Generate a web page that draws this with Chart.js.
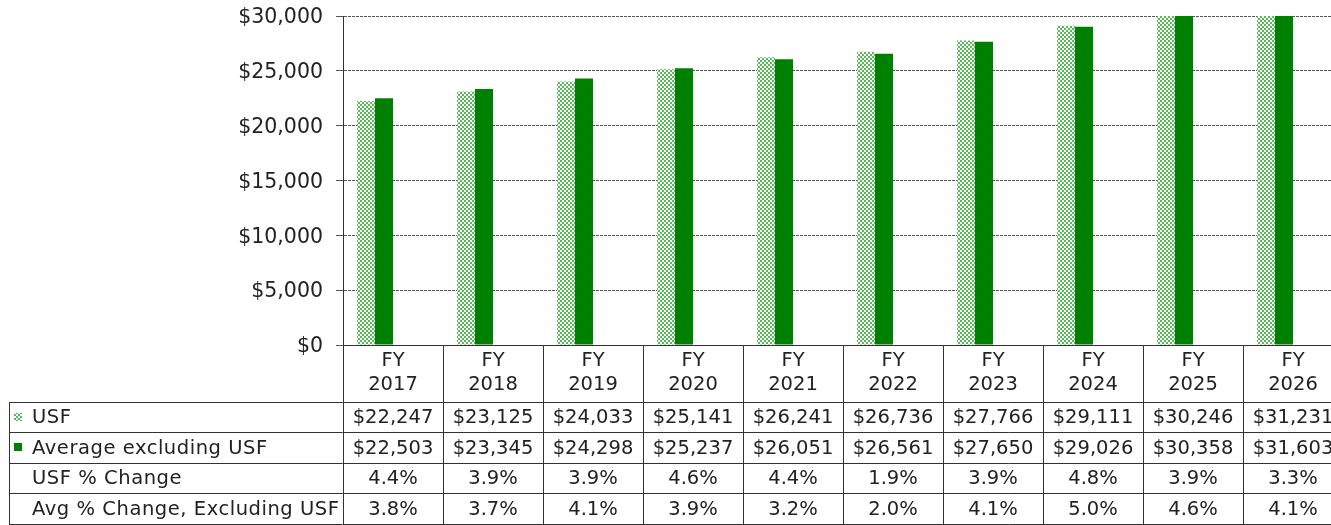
<!DOCTYPE html>
<html lang="en">
<head>
  <meta charset="UTF-8" />
  <title>USF vs Average excluding USF</title>
  <script src="https://cdn.jsdelivr.net/npm/chart.js"></script>
  <style>
    html, body { margin: 0; padding: 0; background: #fff; overflow: hidden; }
    #wrap { width: 1343px; height: 525px; }
  </style>
</head>
<body>
  <div id="wrap"><canvas id="usfChart" width="1343" height="525"></canvas></div>

  <script>
    const years = ['2017', '2018', '2019', '2020', '2021', '2022', '2023', '2024', '2025', '2026'];
    const usf = [22247, 23125, 24033, 25141, 26241, 26736, 27766, 29111, 30246, 31231];
    const avgExclUsf = [22503, 23345, 24298, 25237, 26051, 26561, 27650, 29026, 30358, 31603];
    const usfPctChange = [4.4, 3.9, 3.9, 4.6, 4.4, 1.9, 3.9, 4.8, 3.9, 3.3];
    const avgPctChange = [3.8, 3.7, 4.1, 3.9, 3.2, 2.0, 4.1, 5.0, 4.6, 4.1];
    const rowLabels = ['USF', 'Average excluding USF', 'USF % Change', 'Avg % Change, Excluding USF'];
    const yTicks = [0, 5000, 10000, 15000, 20000, 25000, 30000];

    const FAMILY = '"DejaVu Sans", Verdana, sans-serif';
    const LINE = '#333';
    const SOLID = '#008000';

    // dotted light-green fill used for the USF bars
    function makePattern() {
      const c = document.createElement('canvas');
      c.width = 4; c.height = 4;
      const g = c.getContext('2d');
      g.fillStyle = '#ffffff';
      g.fillRect(0, 0, 4, 4);
      g.fillStyle = '#55bb55';
      g.fillRect(0, 0, 2, 2);
      g.fillRect(2, 2, 2, 2);
      return g.createPattern(c, 'repeat');
    }
    const usfFill = makePattern();

    const money = v => '$' + v.toLocaleString('en-US');
    const pct = v => v.toFixed(1) + '%';

    // Excel-style data table under the plot, columns taken from the x scale
    const dataTable = {
      id: 'dataTable',
      afterDraw(chart) {
        const ctx = chart.ctx;
        const x = chart.scales.x;
        const area = chart.chartArea;
        const colW = x.width / years.length;
        const top = area.bottom;
        const rows = [top, 402, 432, 463, 493, 524];
        const tableLeft = 9;
        const right = chart.width;

        ctx.save();
        ctx.strokeStyle = LINE;
        ctx.lineWidth = 1;
        ctx.beginPath();
        ctx.moveTo(area.left, rows[0] + 0.5); ctx.lineTo(right, rows[0] + 0.5);
        for (let r = 1; r < rows.length; r++) {
          ctx.moveTo(tableLeft, rows[r] + 0.5); ctx.lineTo(right, rows[r] + 0.5);
        }
        ctx.moveTo(tableLeft + 0.5, rows[1]); ctx.lineTo(tableLeft + 0.5, rows[5]);
        for (let i = 0; i <= years.length; i++) {
          const px = Math.round(x.getPixelForValue(i) - colW / 2) + 0.5;
          ctx.moveTo(px, rows[0]); ctx.lineTo(px, rows[5]);
        }
        ctx.stroke();

        ctx.font = '19.5px ' + FAMILY;
        ctx.fillStyle = '#222';
        ctx.textBaseline = 'middle';
        ctx.textAlign = 'center';
        const series = [usf.map(money), avgExclUsf.map(money), usfPctChange.map(pct), avgPctChange.map(pct)];
        years.forEach((yr, i) => {
          const cx = x.getPixelForValue(i);
          ctx.fillText('FY', cx, 361);
          ctx.fillText(yr, cx, 385);
          series.forEach((vals, r) => {
            ctx.fillText(vals[i], cx, (rows[r + 1] + rows[r + 2]) / 2 + 1);
          });
        });

        ctx.textAlign = 'left';
        ctx.letterSpacing = '0.55px';
        rowLabels.forEach((lbl, r) => {
          const cy = (rows[r + 1] + rows[r + 2]) / 2 + 1;
          ctx.fillText(lbl, 32, cy);
        });
        ctx.letterSpacing = '0px';
        // legend keys
        ctx.fillStyle = usfFill;
        ctx.fillRect(14, 413, 8, 8);
        ctx.fillStyle = SOLID;
        ctx.fillRect(14, 443, 8, 8);
        ctx.restore();
      }
    };

    new Chart(document.getElementById('usfChart'), {
      type: 'bar',
      data: {
        labels: years,
        datasets: [
          { label: rowLabels[0], data: usf, backgroundColor: usfFill, yAxisID: 'y' },
          { label: rowLabels[1], data: avgExclUsf, backgroundColor: SOLID, yAxisID: 'y' },
          { label: rowLabels[2], data: usfPctChange, backgroundColor: 'rgba(0,0,0,0)', yAxisID: 'pct' },
          { label: rowLabels[3], data: avgPctChange, backgroundColor: 'rgba(0,0,0,0)', yAxisID: 'pct' }
        ]
      },
      options: {
        responsive: false,
        animation: false,
        categoryPercentage: 0.72,
        barPercentage: 1,
        layout: { padding: { top: 16, bottom: 180, left: 0, right: 0 } },
        plugins: { legend: { display: false }, tooltip: { enabled: false } },
        scales: {
          x: {
            ticks: { display: false },
            grid: { display: false },
            border: { display: false },
            afterFit: s => { s.height = 0; }
          },
          y: {
            min: 0,
            max: 30000,
            afterBuildTicks: s => { s.ticks = yTicks.map(v => ({ value: v })); },
            afterFit: s => { s.width = 343; s.paddingTop = 0; s.paddingBottom = 0; },
            ticks: {
              color: '#222',
              font: { family: FAMILY, size: 20.5 },
              padding: 13,
              labelOffset: 2,
              callback: v => money(v)
            },
            grid: { color: '#555', lineWidth: 1, tickLength: 7 },
            border: { color: LINE, width: 1, dash: [3, 1] }
          },
          pct: { display: false, min: 0, max: 100 }
        }
      },
      plugins: [dataTable]
    });
  </script>
</body>
</html>
